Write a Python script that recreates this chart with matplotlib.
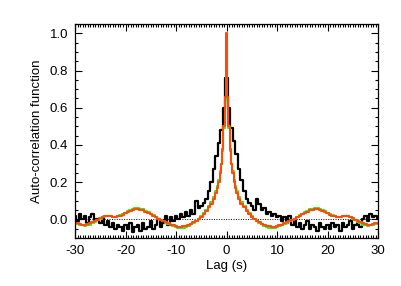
import numpy as np
import matplotlib
matplotlib.use("Agg")
import matplotlib.pyplot as plt
from matplotlib.ticker import MultipleLocator, FormatStrFormatter

# black series: full lag axis, 0.5 s bins from -30 to 30
black_lag = np.arange(-30, 30.5, 0.5)
black_acf = [
    0.02, -0.01, 0.03, 0.00, 0.02, -0.02, 0.01, 0.03, -0.01, 0.00,
    -0.02, 0.01, -0.03, -0.01, -0.04, -0.02, -0.05, -0.03, -0.04, -0.06,
    -0.03, -0.05, -0.02, -0.07, -0.04, -0.03, -0.06, -0.02, -0.05, -0.04,
    -0.01, -0.05, -0.03, 0.00, -0.04, -0.02, 0.02, -0.03, 0.01, -0.01,
    0.02, 0.00, 0.03, 0.01, 0.04, 0.02, 0.05, 0.03, 0.10, 0.06,
    0.07, 0.09, 0.11, 0.15, 0.20, 0.27, 0.34, 0.41, 0.48, 0.60,
    0.76,
    0.60, 0.49, 0.42, 0.35, 0.27, 0.21, 0.15, 0.11, 0.09, 0.07,
    0.05, 0.11, 0.08, 0.05, 0.06, 0.03, 0.04, 0.02, 0.03, 0.01,
    0.02, -0.01, 0.01, -0.02, 0.02, -0.03, 0.00, -0.04, -0.02, -0.05,
    -0.03, -0.01, -0.05, -0.03, -0.04, -0.06, -0.02, -0.04, -0.05, -0.03,
    -0.05, -0.02, -0.04, -0.03, -0.06, -0.02, -0.04, -0.03, -0.01, -0.05,
    -0.03, -0.02, -0.04, 0.00, 0.02, -0.01, 0.03, 0.01, 0.02, 0.00,
]

# green / orange: positive lags only, the ACF is symmetric so mirrored below
half_lag = [0, 0.25, 0.5, 0.75, 1.0, 1.25, 1.5, 1.75, 2.0,
            2.5, 3.0, 3.5, 4.0, 4.5, 5.0, 5.5, 6.0, 6.5, 7.0, 7.5, 8.0,
            8.5, 9.0, 9.5, 10.0, 10.5, 11.0, 11.5, 12.0, 12.5, 13.0,
            13.5, 14.0, 14.5, 15.0, 15.5, 16.0, 16.5, 17.0, 17.5, 18.0,
            18.5, 19.0, 19.5, 20.0, 20.5, 21.0, 21.5, 22.0, 22.5, 23.0,
            23.5, 24.0, 24.5, 25.0, 25.5, 26.0, 26.5, 27.0, 27.5, 28.0,
            28.5, 29.0, 29.5, 30.0]
orange_half = [1.00, 0.66, 0.50, 0.38, 0.30, 0.25, 0.20, 0.17, 0.14,
               0.11, 0.085, 0.065, 0.045, 0.03, 0.015, 0.003, -0.008, -0.016, -0.024, -0.03, -0.035,
               -0.038, -0.04, -0.039, -0.036, -0.031, -0.028, -0.022, -0.016, -0.010, -0.004,
               0.003, 0.012, 0.020, 0.028, 0.036, 0.042, 0.048, 0.052, 0.056, 0.055,
               0.052, 0.046, 0.040, 0.033, 0.026, 0.020, 0.016, 0.014, 0.015, 0.018,
               0.020, 0.018, 0.012, 0.005, -0.002, -0.008, -0.015, -0.022, -0.027, -0.030,
               -0.028, -0.024, -0.020, -0.017]
green_half = [0.66, 0.64, 0.49, 0.37, 0.30, 0.26, 0.21, 0.18, 0.15,
              0.12, 0.095, 0.072, 0.052, 0.035, 0.018, 0.004, -0.008, -0.018, -0.027, -0.034, -0.040,
              -0.044, -0.046, -0.044, -0.041, -0.035, -0.031, -0.025, -0.018, -0.011, -0.004,
              0.004, 0.014, 0.023, 0.031, 0.040, 0.047, 0.053, 0.058, 0.062, 0.060,
              0.056, 0.050, 0.043, 0.035, 0.027, 0.021, 0.016, 0.013, 0.014, 0.017,
              0.020, 0.017, 0.010, 0.002, -0.006, -0.012, -0.020, -0.028, -0.033, -0.036,
              -0.033, -0.028, -0.024, -0.021]


def mirror(lags, vals):
    lags = np.asarray(lags)
    vals = np.asarray(vals)
    return (np.concatenate([-lags[:0:-1], lags]),
            np.concatenate([vals[:0:-1], vals]))


def main():
    plt.rcParams['font.family'] = ['Liberation Sans', 'DejaVu Sans']
    plt.rcParams['font.size'] = 9.5
    plt.rcParams['axes.unicode_minus'] = False

    fig = plt.figure(figsize=(4.01, 2.86), dpi=100)
    ax = fig.add_axes([0.187, 0.168, 0.756, 0.748])

    ax.axhline(0, color='black', lw=0.7, ls=(0, (1, 1.5)))

    ax.plot(black_lag, black_acf, drawstyle='steps-mid', color='black', lw=1.6)
    gx, gy = mirror(half_lag, green_half)
    ax.plot(gx, gy, drawstyle='steps-mid', color='#33ee22', lw=1.5)
    ox, oy = mirror(half_lag, orange_half)
    ax.plot(ox, oy, drawstyle='steps-mid', color='#ff4a0a', lw=1.5)

    ax.set_xlim(-30, 30)
    ax.set_ylim(-0.1, 1.05)
    ax.xaxis.set_major_locator(MultipleLocator(10))
    ax.xaxis.set_minor_locator(MultipleLocator(0.5))
    ax.yaxis.set_major_locator(MultipleLocator(0.2))
    ax.yaxis.set_minor_locator(MultipleLocator(0.05))
    ax.yaxis.set_major_formatter(FormatStrFormatter('%.1f'))
    ax.tick_params(which='both', direction='in', top=True, right=True, width=0.8)
    ax.tick_params(which='major', length=5, pad=5)
    ax.tick_params(which='minor', length=2.5)
    for s in ax.spines.values():
        s.set_linewidth(0.9)

    ax.set_xlabel('Lag (s)', labelpad=2)
    ax.set_ylabel('Auto-correlation function', labelpad=5)

    fig.savefig('out.png', dpi=100)
    plt.close(fig)


if __name__ == "__main__":
    main()
